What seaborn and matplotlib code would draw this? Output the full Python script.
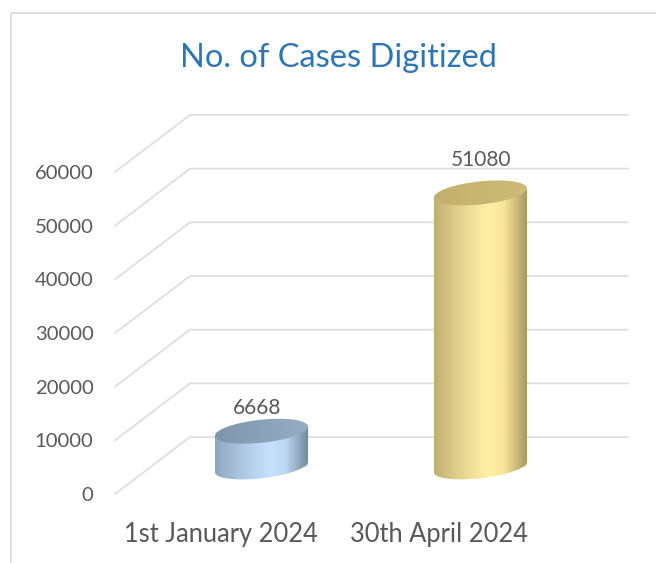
import numpy as np
import seaborn as sns
import matplotlib
matplotlib.use('Agg')
import matplotlib.pyplot as plt
from matplotlib.colors import LinearSegmentedColormap
from matplotlib.patches import Ellipse, PathPatch
from matplotlib.path import Path
from matplotlib.transforms import ScaledTranslation

# Data
dates = ['1st January 2024', '30th April 2024']
cases = [6668, 51080]
ticks = [0, 10000, 20000, 30000, 40000, 50000, 60000]
title = 'No. of Cases Digitized'

W, H = 656, 563
GREY = '#595959'
LINE = '#dedede'
DEPTH_X, DEPTH_Y = 75, 57   # back wall offset, pixels
BAR_X, BAR_Y = 37, 27       # bars stand half way into the depth
TILT = np.radians(6)
ELL_B = 11.5

side_cols = [['#8ea6bd', '#a9c3dc', '#c6e2fd', '#bcd6f0', '#6f8396'],
             ['#bfae6e', '#e0cf8c', '#fff2a4', '#f5e396', '#a3935c']]
top_cols = [['#7f95ac', '#97adc4'], ['#c2b06c', '#cdbb78']]
label_shift = [(-4, -23), (1, -33)]

sns.set_theme(style='white')
plt.rcParams['font.family'] = ['Lato', 'DejaVu Sans']

fig = plt.figure(figsize=(W / 100, H / 100), dpi=100)
ax = fig.add_axes([115 / W, 1 - 494 / H, 438 / W, 322 / H])
ax.patch.set_alpha(0)

sns.barplot(x=dates, y=cases, hue=dates, palette=[c[2] for c in side_cols],
            width=0.425, legend=False, ax=ax)
ax.set_xlim(-0.5, 1.5)
ax.set_ylim(0, 60000)
ax.set_yticks(ticks)
ax.tick_params(axis='y', length=0, pad=15.5, labelsize=14.6, labelcolor=GREY)
ax.tick_params(axis='x', length=0, pad=20, labelsize=18.4, labelcolor=GREY)
for lab in ax.get_xticklabels():
    lab.set_transform(lab.get_transform() + ScaledTranslation(-4 / 100, 0, fig.dpi_scale_trans))
sns.despine(ax=ax, left=True, bottom=True, top=True, right=True)

# overlay in image pixels for the fake 3D parts
ov = fig.add_axes([0, 0, 1, 1], zorder=5)
ov.patch.set_alpha(0)
ov.axis('off')


def to_px(x, v):
    px, py = ax.transData.transform((x, v))
    return px, H - py


# frame of the chart, open on the right
ov.plot([11, 11, W], [H, 13, 13], color='#d9d9d9', lw=1.2)

# floor and back wall lines
for t in ticks:
    x0, y0 = to_px(-0.5, t)
    x1, _ = to_px(1.5, t)
    ov.plot([x0, x0 + DEPTH_X, x1 + DEPTH_X], [y0, y0 - DEPTH_Y, y0 - DEPTH_Y],
            color=LINE, lw=1.3, solid_joinstyle='round')

# cylinders
for i, p in enumerate(ax.patches[:len(cases)]):
    xl, yb = to_px(p.get_x(), 0)
    xr, yt = to_px(p.get_x() + p.get_width(), p.get_height())
    xl, xr = xl + BAR_X, xr + BAR_X
    yb, yt = yb - BAR_Y, yt - BAR_Y
    cx = (xl + xr) / 2
    a = (xr - xl) / 2 / np.cos(TILT)

    t0 = np.arctan2(-ELL_B * np.sin(TILT), a * np.cos(TILT))
    t = np.linspace(t0, t0 + np.pi, 60)
    ex = a * np.cos(t) * np.cos(TILT) - ELL_B * np.sin(t) * np.sin(TILT)
    ey = -a * np.cos(t) * np.sin(TILT) + ELL_B * np.sin(t) * np.cos(TILT)
    arc = np.column_stack([cx + ex, yb + ey])
    side = np.vstack([arc, [[cx + ex[-1], yt + ey[-1]], [cx + ex[0], yt + ey[0]]], arc[:1]])
    clip = PathPatch(Path(side), fc='none', ec='none', transform=ov.transData)
    ov.add_patch(clip)

    p.set_transform(ax.transData + ScaledTranslation(BAR_X / 100, BAR_Y / 100, fig.dpi_scale_trans))

    grad = np.linspace(0, 1, 200).reshape(1, -1)
    stops = list(zip([0, 0.25, 0.58, 0.75, 1], side_cols[i]))
    cmap = LinearSegmentedColormap.from_list('side', stops)
    im = ov.imshow(grad, cmap=cmap, aspect='auto', extent=(xl - 1, xr + 1, yb + 20, yt - 20), zorder=3)
    im.set_clip_path(clip)

    top = Ellipse((cx, yt), 2 * a, 2 * ELL_B, angle=-np.degrees(TILT), fc='none', ec='none',
                  transform=ov.transData)
    ov.add_patch(top)
    cmap = LinearSegmentedColormap.from_list('top', top_cols[i])
    im = ov.imshow(grad, cmap=cmap, aspect='auto', extent=(xl - 1, xr + 1, yt + 20, yt - 20), zorder=4)
    im.set_clip_path(top)

    dx, dy = label_shift[i]
    ov.text(cx + dx, yt + dy, str(cases[i]), ha='center', va='center', fontsize=15, color=GREY, zorder=6)

ov.set_xlim(0, W)
ov.set_ylim(H, 0)

fig.text(338 / W, 1 - 58 / H, title, ha='center', va='center', fontsize=23.5, color='#2e75b6')

fig.savefig('out.png', dpi=100, facecolor='white')
